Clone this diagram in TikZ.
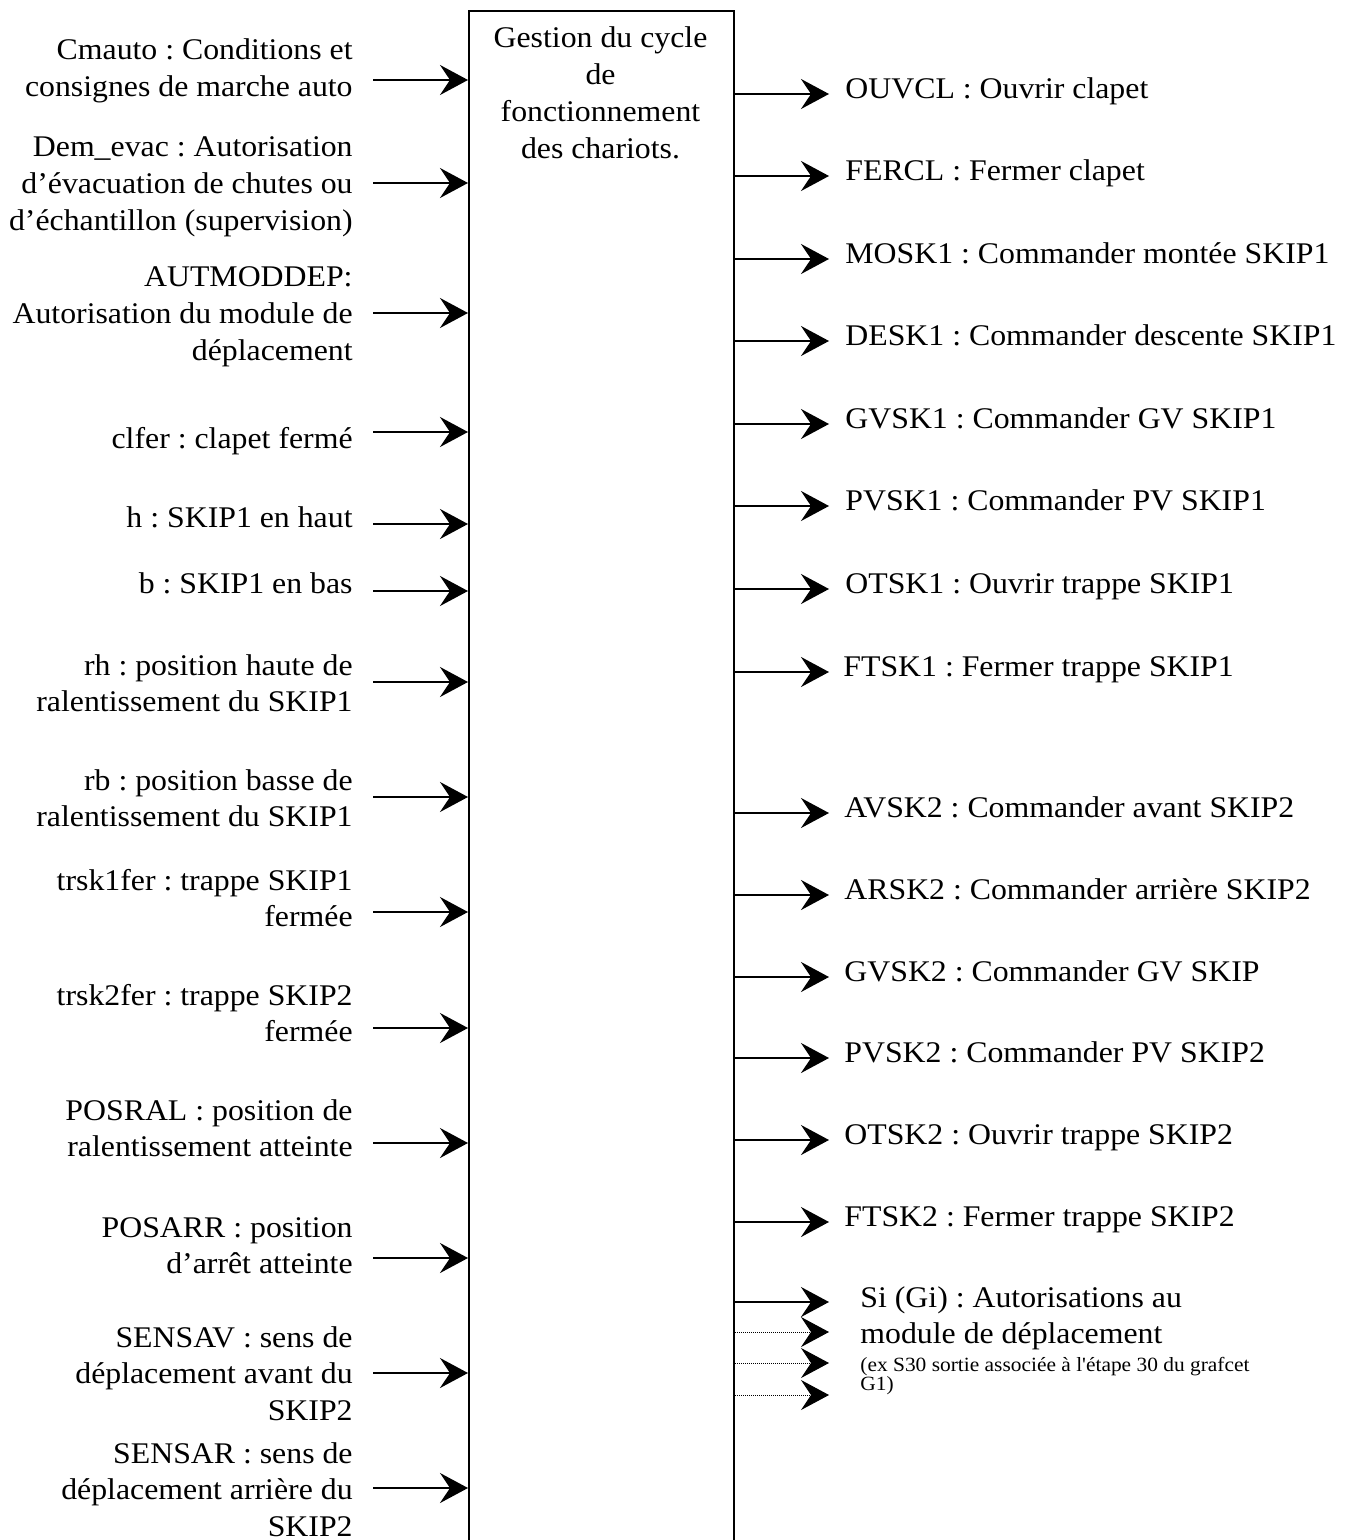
\documentclass[tikz,border=0pt]{standalone}
\usepackage{fontspec}
\setmainfont{Liberation Serif}[FakeStretch=1.06]
\newfontfamily\notefont{Liberation Serif}[FakeStretch=1.06, Ligatures=TeXOff]
\usetikzlibrary{arrows.meta}
\frenchspacing

% multi-line labels whose reference point is the baseline of the first line
\newcommand\rlines[1]{\begin{tabular}[t]{@{}r@{}}#1\end{tabular}}
\newcommand\clines[1]{\begin{tabular}[t]{@{}c@{}}#1\end{tabular}}
\newcommand\llines[1]{\begin{tabular}[t]{@{}l@{}}#1\end{tabular}}

\tikzset{
  lab/.style={inner sep=0pt, font=\fontsize{15}{18.35}\selectfont},
  inlab/.style={lab, anchor=base east},
  outlab/.style={lab, anchor=base west},
  notelab/.style={inner sep=0pt, anchor=base west, font=\notefont\fontsize{10.1}{9.5}\selectfont},
  flow/.style={line width=1pt, -{Stealth[length=14pt,width=15pt,inset=5pt]}},
  dotflow/.style={flow, line width=0.5pt, dash pattern=on 0.5pt off 0.5pt},
  block/.style={draw, line width=1pt, inner sep=0pt, anchor=north west,
    minimum width=132.5pt, minimum height=800pt},
}

\begin{document}
\begin{tikzpicture}[x=0.5pt, y=-0.5pt]
  \fill[white] (0,0) rectangle (1355,1540);
  \useasboundingbox (0,0) rectangle (1355,1540);

  % function block (open at the bottom edge of the sheet)
  \node[block] (box) at (468,10) {};
  \node[lab, anchor=base] (title) at (600.5,48)
    {\clines{Gestion du cycle\\de\\fonctionnement\\des chariots.}};

  % ---- inputs ----
  \node[inlab] (i1) at (353,60) {\rlines{Cmauto : Conditions et\\consignes de marche auto}};
  \node[inlab] (i2) at (353,157) {\rlines{Dem\_evac : Autorisation\\d’évacuation de chutes ou\\d’échantillon (supervision)}};
  \node[inlab] (i3) at (353,287) {\rlines{AUTMODDEP:\\Autorisation du module de\\déplacement}};
  \node[inlab] (i4) at (353,448) {clfer : clapet fermé};
  \node[inlab] (i5) at (353,527) {h : SKIP1 en haut};
  \node[inlab] (i6) at (353,593) {b : SKIP1 en bas};
  \node[inlab] (i7) at (353,675) {\rlines{rh : position haute de\hspace{2.5pt}\\ralentissement du SKIP1\hspace{4pt}}};
  \node[inlab] (i8) at (353,790) {\rlines{rb : position basse de\\ralentissement du SKIP1\hspace{2pt}}};
  \node[inlab] (i9) at (353,890) {\rlines{trsk1fer : trappe SKIP1\\fermée}};
  \node[inlab] (i10) at (353,1005) {\rlines{trsk2fer : trappe SKIP2\\fermée}};
  \node[inlab] (i11) at (353,1120) {\rlines{POSRAL : position de\\ralentissement atteinte}};
  \node[inlab] (i12) at (353,1237) {\rlines{POSARR : position\\d’arrêt atteinte}};
  \node[inlab] (i13) at (353,1347) {\rlines{SENSAV : sens de\\déplacement avant du\\SKIP2}};
  \node[inlab] (i14) at (353,1463) {\rlines{SENSAR : sens de\\déplacement arrière du\\SKIP2}};

  \foreach \n/\y in {1/80, 2/183, 3/313, 4/432, 5/524, 6/591, 7/682,
                     8/797, 9/912, 10/1028, 11/1143, 12/1258, 13/1373, 14/1488} {
    \coordinate (ia\n) at (373,\y);
    \draw[flow] (ia\n) -- (ia\n -| box.west);
  }

  % ---- outputs ----
  \node[outlab] (o1) at (845,98.5) {OUVCL : Ouvrir clapet};
  \node[outlab] (o2) at (845,180.5) {FERCL : Fermer clapet};
  \node[outlab] (o3) at (845,263.5) {MOSK1 : Commander montée SKIP1};
  \node[outlab] (o4) at (845,345.5) {DESK1 : Commander descente SKIP1};
  \node[outlab] (o5) at (845,428.5) {GVSK1 : Commander GV SKIP1};
  \node[outlab] (o6) at (845,510.5) {PVSK1 : Commander PV SKIP1};
  \node[outlab] (o7) at (845,593.5) {OTSK1 : Ouvrir trappe SKIP1};
  \node[outlab] (o8) at (843,676.5) {FTSK1 : Fermer trappe SKIP1};
  \node[outlab] (o9) at (844,817.5) {AVSK2 : Commander avant SKIP2};
  \node[outlab] (o10) at (844,899.5) {ARSK2 : Commander arrière SKIP2};
  \node[outlab] (o11) at (844,981.5) {GVSK2 : Commander GV SKIP};
  \node[outlab] (o12) at (844,1062.5) {PVSK2 : Commander PV SKIP2};
  \node[outlab] (o13) at (844,1144.5) {OTSK2 : Ouvrir trappe SKIP2};
  \node[outlab] (o14) at (844,1226.5) {FTSK2 : Fermer trappe SKIP2};
  \node[outlab] (o15) at (860,1307) {\llines{Si (Gi) : Autorisations au\\module de déplacement}};
  \node[notelab] (note) at (860,1371) {\llines{(ex S30 sortie associée à l'étape 30 du grafcet\\G1)}};

  \foreach \n/\y in {1/94, 2/176, 3/259, 4/341, 5/424, 6/506, 7/589, 8/672,
                     9/813, 10/895, 11/977, 12/1058, 13/1140, 14/1222, 15/1302} {
    \coordinate (oa\n) at (829,\y);
    \draw[flow] (oa\n -| box.east) -- (oa\n);
  }
  \foreach \n/\y in {16/1332, 17/1363, 18/1395} {
    \coordinate (oa\n) at (829,\y);
    \draw[dotflow] (oa\n -| box.east) -- (oa\n);
  }
\end{tikzpicture}
\end{document}
